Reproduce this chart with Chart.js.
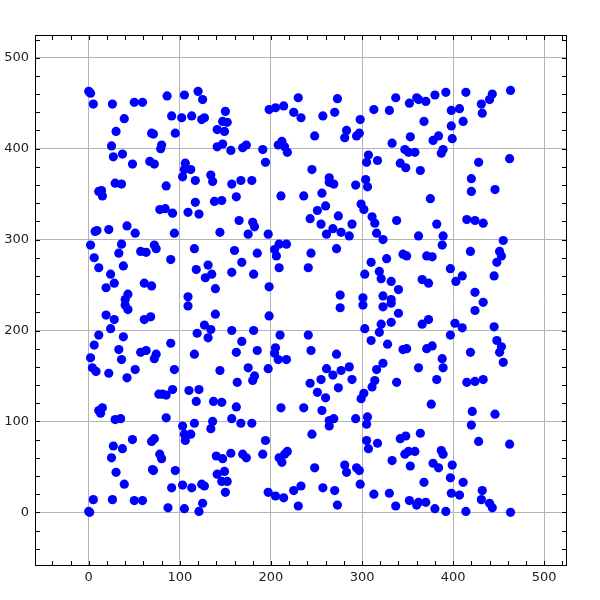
<!DOCTYPE html>
<html>
<head>
<meta charset="utf-8">
<script src="https://cdn.jsdelivr.net/npm/chart.js@4"></script>
<style>
    body { margin: 0; background: #fff; }
    canvas { display: block; }
</style>
</head>
<body>
<canvas id="scatterChart" width="600" height="600"></canvas>
<script>
// point data, grouped by area of the plot
const upperLeft = [[0,463],[2,461],[5,449],[26,449],[50,451],[59,451],[86,458],[105,459],[120,463],[125,454],[150,441],[39,433],[91,436],[102,434],[113,436],[124,432],[127,434],[147,430],[152,429],[141,421],[149,419],[30,419],[69,417],[71,416],[95,417],[25,403],[80,404],[79,400],[141,402],[147,405],[156,398],[27,391],[37,394],[48,383],[67,386],[72,383],[106,384],[105,377],[112,377],[103,369],[117,365],[134,371],[136,364],[157,361],[29,362],[36,361],[85,359],[11,353],[14,354],[15,348],[117,341],[138,342],[146,343],[78,333],[84,334],[92,329],[109,330],[121,328],[7,309],[9,310],[22,311],[42,315],[51,307],[94,307],[144,308]];
const upperMid = [[169,401],[173,404],[191,399],[194,385],[198,443],[205,445],[214,447],[230,456],[225,440],[233,434],[257,436],[270,440],[273,455],[313,443],[298,432],[283,420],[281,412],[294,414],[297,417],[248,414],[212,408],[208,404],[215,402],[218,396],[307,393],[305,385],[317,387],[245,377],[167,365],[179,365],[162,347],[211,348],[236,348],[264,368],[264,363],[269,361],[256,351],[293,360],[304,366],[306,358],[299,339],[302,333],[260,337],[251,332],[243,323],[255,317],[274,326],[289,317],[311,325],[314,318],[165,321],[180,319],[182,314],[175,306],[197,306],[261,306],[268,312],[277,308],[286,304],[316,307]];
const upperRight = [[330,442],[337,456],[352,450],[360,456],[362,454],[370,452],[380,459],[392,462],[414,462],[398,442],[407,444],[431,449],[432,439],[440,454],[443,460],[463,464],[368,430],[398,425],[411,430],[399,411],[353,413],[333,406],[378,409],[384,414],[347,399],[351,396],[358,396],[387,395],[389,399],[342,384],[348,379],[364,376],[428,385],[462,389],[420,367],[420,353],[446,355],[375,345],[338,321],[382,317],[415,322],[424,321],[433,318]];
const middleLeft = [[2,294],[36,295],[33,285],[57,287],[63,286],[72,294],[74,290],[90,278],[116,290],[160,288],[6,280],[11,269],[38,271],[24,262],[19,247],[28,252],[61,252],[69,249],[118,267],[131,272],[128,258],[135,262],[157,264],[139,246],[43,240],[40,234],[40,228],[43,223],[109,237],[109,227],[139,218],[19,217],[28,212],[61,212],[68,215],[24,202],[127,206],[134,201],[119,197],[131,192],[157,200],[11,195],[38,193],[6,184],[33,179],[36,168],[57,176],[63,178],[74,174],[72,169],[90,186],[116,174],[162,176],[2,170],[4,159],[8,155],[22,153],[42,148],[51,157],[94,157],[144,156],[163,143]];
const middleMid = [[323,300],[209,295],[217,295],[204,289],[206,282],[185,285],[168,275],[181,262],[209,269],[244,285],[241,269],[272,290],[310,275],[319,265],[321,257],[303,262],[327,279],[198,248],[276,239],[276,225],[301,236],[301,228],[323,238],[323,226],[198,216],[181,200],[168,188],[185,178],[210,195],[241,195],[205,181],[204,175],[208,168],[217,168],[244,178],[272,174],[303,202],[319,198],[321,207],[310,189],[328,185],[175,159],[182,150],[180,145],[197,158],[261,158],[255,146],[268,151],[277,156],[286,160],[289,146],[243,142],[316,157],[314,145],[323,164]];
const middleRight = [[389,304],[362,304],[388,294],[455,299],[419,287],[451,287],[453,282],[448,275],[345,284],[349,282],[371,282],[377,281],[332,254],[340,245],[366,256],[373,252],[397,268],[410,260],[403,254],[445,260],[332,234],[332,230],[424,242],[433,231],[424,222],[340,219],[332,209],[366,207],[373,212],[402,208],[410,203],[397,195],[445,204],[345,179],[349,180],[371,180],[377,183],[419,176],[448,189],[453,182],[451,176],[455,165],[388,169],[389,159],[362,159],[382,146],[338,143],[415,143],[424,144],[433,146]];
const lowerLeft = [[77,130],[81,130],[85,129],[92,135],[110,134],[121,135],[118,122],[137,122],[146,121],[162,116],[11,112],[15,115],[13,109],[29,102],[35,103],[85,104],[103,95],[116,98],[136,100],[134,92],[157,103],[105,86],[112,86],[106,79],[48,80],[69,78],[72,81],[27,73],[37,70],[25,60],[78,64],[80,59],[140,62],[147,59],[156,65],[30,44],[70,47],[71,46],[95,46],[141,42],[149,45],[146,34],[152,34],[150,22],[39,31],[91,27],[103,30],[113,27],[124,31],[127,29],[5,14],[26,14],[50,13],[59,13],[125,10],[87,5],[105,4],[121,1],[0,1],[1,0]];
const lowerMid = [[311,138],[302,131],[299,125],[251,132],[260,126],[274,137],[211,115],[236,115],[256,112],[167,98],[179,98],[264,101],[269,103],[264,95],[293,103],[306,105],[305,97],[245,86],[194,79],[305,79],[307,70],[317,76],[169,64],[173,60],[191,64],[209,60],[212,55],[215,64],[218,67],[248,49],[281,52],[283,44],[294,49],[297,46],[298,31],[197,22],[205,18],[214,16],[225,24],[233,29],[257,27],[270,24],[230,7],[273,8],[313,20],[330,21]];
const lowerRight = [[376,119],[421,111],[446,108],[420,96],[364,87],[342,81],[348,84],[428,78],[462,75],[347,64],[351,67],[358,67],[387,68],[389,64],[333,57],[353,51],[378,54],[384,49],[399,52],[397,38],[411,33],[368,33],[398,21],[407,19],[432,24],[431,14],[440,10],[443,5],[352,13],[360,8],[362,11],[370,11],[337,7],[380,4],[392,1],[414,1],[463,0]];

const majorTicks = [0, 100, 200, 300, 400, 500];
const minorStep = 20;
const axisMin = -59;
const axisMax = 525;

const allPoints = [].concat(upperLeft, upperMid, upperRight, middleLeft, middleMid, middleRight, lowerLeft, lowerMid, lowerRight)
    .map(p => ({ x: p[0], y: p[1] }));

function minorValues() {
    const vals = [];
    for (let v = Math.ceil(axisMin / minorStep) * minorStep; v <= axisMax; v += minorStep) vals.push(v);
    return vals;
}

// frame around the plot and short inward ticks on every side
const frameTicks = {
    id: 'frameTicks',
    afterDraw(chart) {
        const { ctx, chartArea: a, scales } = chart;
        ctx.save();
        ctx.strokeStyle = '#000';
        ctx.lineWidth = 1;
        ctx.strokeRect(Math.round(a.left) + 0.5, Math.round(a.top) + 0.5,
            Math.round(a.right - a.left) - 1, Math.round(a.bottom - a.top) - 1);
        ctx.beginPath();
        minorValues().forEach(v => {
            const px = Math.round(scales.x.getPixelForValue(v)) + 0.5;
            ctx.moveTo(px, a.bottom); ctx.lineTo(px, a.bottom - 5);
            ctx.moveTo(px, a.top); ctx.lineTo(px, a.top + 5);
            const py = Math.round(scales.y.getPixelForValue(v)) + 0.5;
            ctx.moveTo(a.left, py); ctx.lineTo(a.left + 5, py);
            ctx.moveTo(a.right, py); ctx.lineTo(a.right - 5, py);
        });
        ctx.stroke();
        ctx.restore();
    }
};

function axisOptions(isX) {
    return {
        type: 'linear',
        min: axisMin,
        max: axisMax,
        afterBuildTicks: scale => {
            scale.ticks = minorValues().map(v => ({ value: v }));
        },
        afterFit: scale => {
            if (isX) scale.height = 34; else scale.width = 35;
        },
        border: { display: false },
        grid: {
            drawTicks: false,
            color: c => majorTicks.includes(c.tick.value) ? '#b4b4b4' : 'rgba(0,0,0,0)',
            lineWidth: 1
        },
        ticks: {
            autoSkip: false,
            maxRotation: 0,
            padding: isX ? 4 : 6,
            color: '#222',
            font: { family: 'DejaVu Sans', size: 13 },
            callback: v => majorTicks.includes(v) ? String(v) : ''
        }
    };
}

new Chart(document.getElementById('scatterChart'), {
    type: 'scatter',
    data: {
        datasets: [{
            data: allPoints,
            backgroundColor: '#0000ff',
            borderWidth: 0,
            pointRadius: 4.6,
            pointHoverRadius: 4.6
        }]
    },
    options: {
        responsive: false,
        animation: false,
        devicePixelRatio: 1,
        layout: { padding: { top: 35, right: 33, left: 0, bottom: 0 } },
        plugins: { legend: { display: false }, tooltip: { enabled: false } },
        events: [],
        scales: {
            x: axisOptions(true),
            y: axisOptions(false)
        }
    },
    plugins: [frameTicks]
});
</script>
</body>
</html>
